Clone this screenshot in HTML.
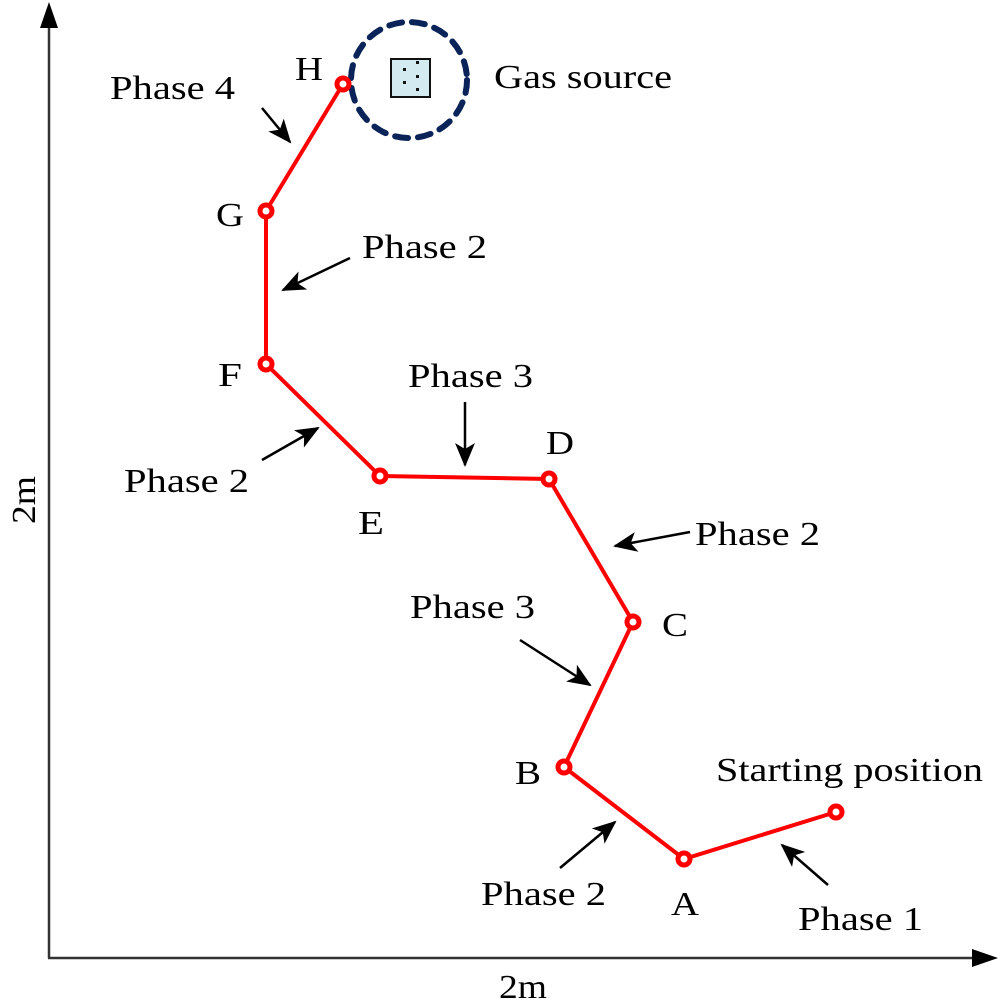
<!DOCTYPE html>
<html><head><style>body{margin:0;background:#fff}</style></head><body>
<svg width="1000" height="1000" xmlns="http://www.w3.org/2000/svg" font-family="Liberation Serif, serif" font-size="34">
<defs>
<marker id="b" markerWidth="24" markerHeight="20" refX="22" refY="10" orient="auto" markerUnits="userSpaceOnUse"><path d="M0,0 L24,10 L0,20 L6,10 z" fill="#000"/></marker>
</defs>
<g stroke="#333" stroke-width="2.5">
<line x1="49" y1="958" x2="49" y2="20"/>
<line x1="48" y1="958" x2="980" y2="958"/>
</g>
<path d="M49,2 L40,28 L58,28 z" fill="#000"/>
<path d="M998,958 L972,949 L972,967 z" fill="#000"/>
<circle cx="409" cy="80" r="58" fill="none" stroke="#0a2459" stroke-width="6" stroke-dasharray="13,10" stroke-linecap="round"/>
<rect x="391" y="59" width="39" height="38" fill="#d3ebf0" stroke="#111" stroke-width="2"/>
<g fill="#111"><rect x="403" y="68" width="3" height="3"/><rect x="416" y="61" width="3" height="3"/><rect x="416" y="75" width="3" height="3"/><rect x="403" y="81" width="3" height="3"/><rect x="416" y="88" width="3" height="3"/></g>
<polyline points="836,812 684,859 564,767 633,622 549,479 380,476 266,364 266,211 343,84" fill="none" stroke="#f00" stroke-width="4"/>
<g fill="#fff" stroke="#f00" stroke-width="5">
<circle cx="836" cy="812" r="6"/><circle cx="684" cy="859" r="6"/><circle cx="564" cy="767" r="6"/><circle cx="633" cy="622" r="6"/><circle cx="549" cy="479" r="6"/><circle cx="380" cy="476" r="6"/><circle cx="266" cy="364" r="6"/><circle cx="266" cy="211" r="6"/><circle cx="343" cy="84" r="6"/>
</g>
<g stroke="#000" stroke-width="2.5" marker-end="url(#b)">
<line x1="262" y1="108" x2="290" y2="142"/>
<line x1="350" y1="258" x2="283" y2="290"/>
<line x1="465" y1="402" x2="465" y2="465"/>
<line x1="262" y1="460" x2="318" y2="428"/>
<line x1="690" y1="532" x2="615" y2="546"/>
<line x1="520" y1="640" x2="590" y2="685"/>
<line x1="560" y1="868" x2="615" y2="822"/>
<line x1="828" y1="885" x2="782" y2="845"/>
</g>
<g fill="#000" lengthAdjust="spacingAndGlyphs">
<text x="110" y="99" textLength="125" lengthAdjust="spacingAndGlyphs">Phase 4</text>
<text x="295" y="80" textLength="28" lengthAdjust="spacingAndGlyphs">H</text>
<text x="494" y="88" textLength="178" lengthAdjust="spacingAndGlyphs">Gas source</text>
<text x="216" y="226" textLength="28" lengthAdjust="spacingAndGlyphs">G</text>
<text x="362" y="258" textLength="125" lengthAdjust="spacingAndGlyphs">Phase 2</text>
<text x="218" y="386" textLength="24" lengthAdjust="spacingAndGlyphs">F</text>
<text x="408" y="387" textLength="125" lengthAdjust="spacingAndGlyphs">Phase 3</text>
<text x="124" y="492" textLength="125" lengthAdjust="spacingAndGlyphs">Phase 2</text>
<text x="546" y="454" textLength="28" lengthAdjust="spacingAndGlyphs">D</text>
<text x="358" y="534" textLength="26" lengthAdjust="spacingAndGlyphs">E</text>
<text x="695" y="545" textLength="125" lengthAdjust="spacingAndGlyphs">Phase 2</text>
<text x="410" y="618" textLength="125" lengthAdjust="spacingAndGlyphs">Phase 3</text>
<text x="662" y="636" textLength="26" lengthAdjust="spacingAndGlyphs">C</text>
<text x="515" y="784" textLength="26" lengthAdjust="spacingAndGlyphs">B</text>
<text x="716" y="781" textLength="267" lengthAdjust="spacingAndGlyphs">Starting position</text>
<text x="481" y="905" textLength="125" lengthAdjust="spacingAndGlyphs">Phase 2</text>
<text x="671" y="915" textLength="28" lengthAdjust="spacingAndGlyphs">A</text>
<text x="798" y="930" textLength="125" lengthAdjust="spacingAndGlyphs">Phase 1</text>
<text x="499" y="998" textLength="48" lengthAdjust="spacingAndGlyphs">2m</text>
<text transform="translate(35,500) rotate(-90)" text-anchor="middle" textLength="48" lengthAdjust="spacingAndGlyphs">2m</text>
</g>
</svg>
</body></html>
